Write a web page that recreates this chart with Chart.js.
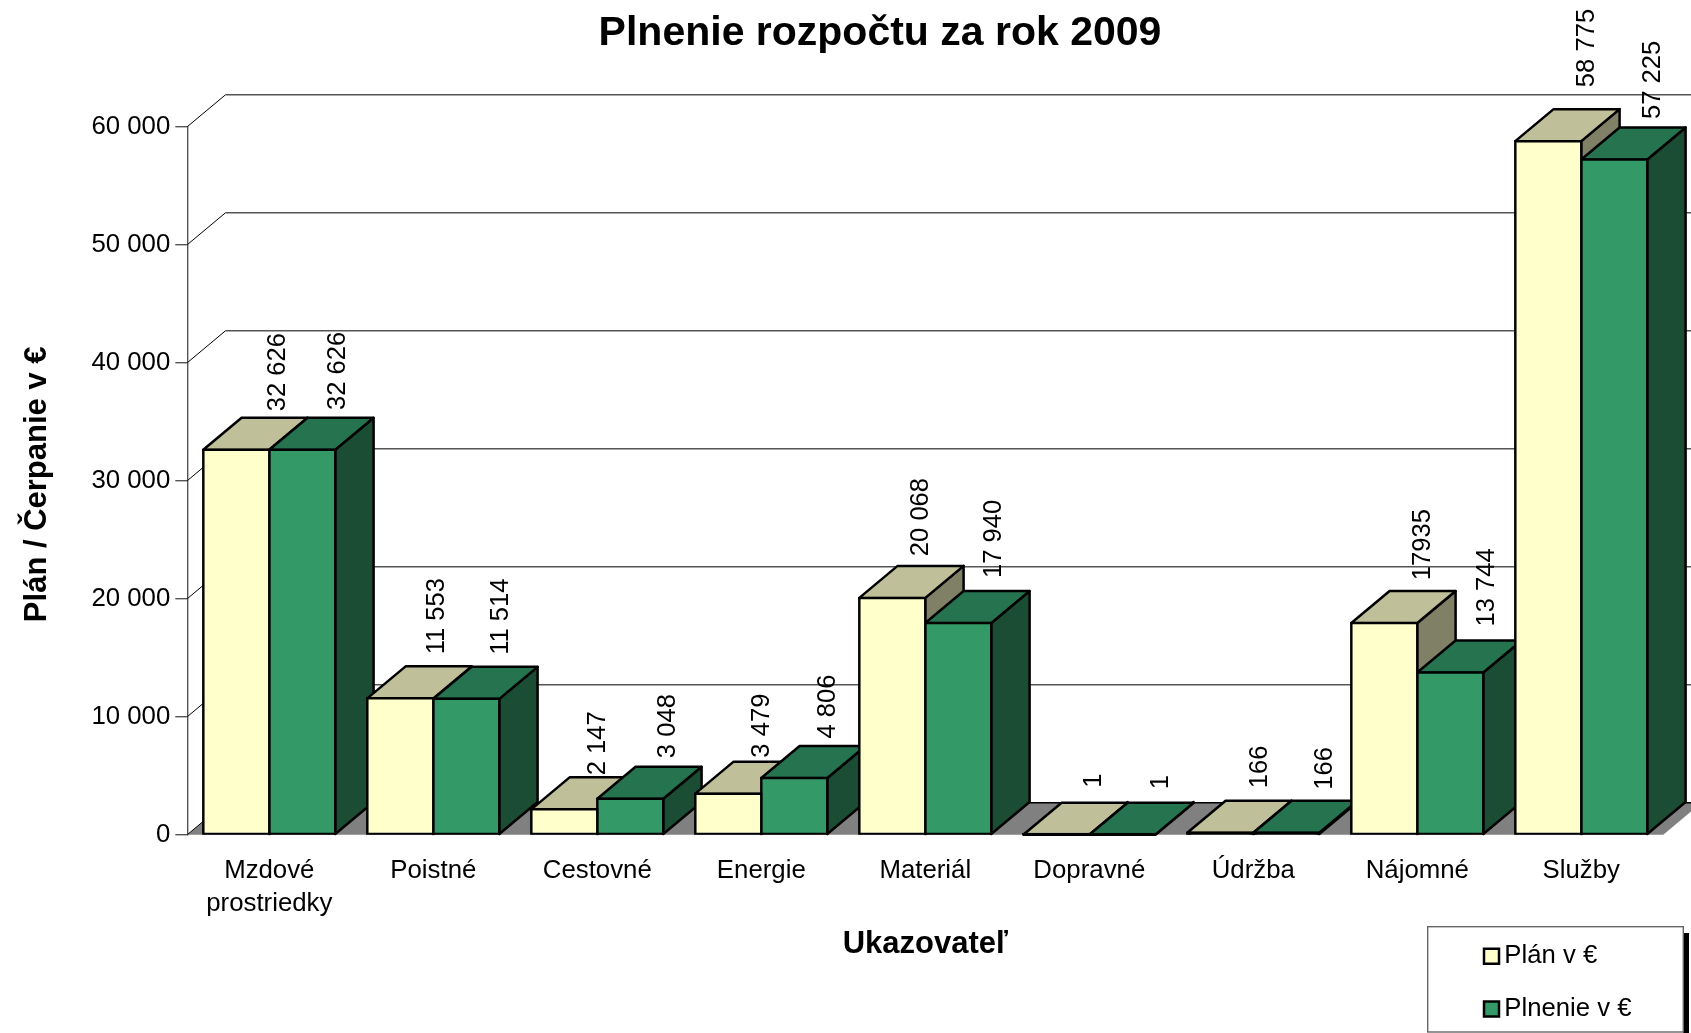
<!DOCTYPE html>
<html><head><meta charset="utf-8">
<style>html,body{margin:0;padding:0;background:#fff}canvas{display:block}</style>
<script src="https://cdn.jsdelivr.net/npm/chart.js@4"></script>
</head><body><canvas id="c" width="1691" height="1033"></canvas>
<script>
const categories = [['Mzdové','prostriedky'],'Poistné','Cestovné','Energie','Materiál','Dopravné','Údržba','Nájomné','Služby'];
const planValues = [32626,11553,2147,3479,20068,1,166,17935,58775];
const plneniValues = [32626,11514,3048,4806,17940,1,166,13744,57225];
const planLabels = ['32 626','11 553','2 147','3 479','20 068','1','166','17935','58 775'];
const plneniLabels = ['32 626','11 514','3 048','4 806','17 940','1','166','13 744','57 225'];
const seriesNames = ['Plán v €','Plnenie v €'];
const tickValues = {min:0,max:60000,step:10000};

const depthX = 38.3, depthY = 32;
// hand placement of the rotated value labels: [x from bar left, gap above bar back edge]
const labelNudgePlan = [[72.7,6.5],[67.3,12],[65,2],[65,4],[59.5,9.7],[69,15],[71,12.6],[70,10.8],[69.7,22]];
const labelNudgePlneni = [[67,7.7],[66,12],[69,8.6],[64.8,7.5],[66.8,13],[70,13.4],[70,11],[67.7,14],[69.7,8.4]];
const faceColors = [{top:'#BFBF99',side:'#808066'},{top:'#267350',side:'#1A4D33'}];
const fmt = v => String(v).replace(/\B(?=(\d{3})+$)/g,' ');

const font = 'Liberation Sans';
const edge = 2.5;
Chart.defaults.font.family = font;
Chart.defaults.color = '#000';

function poly(ctx, pts, fill, stroke, lw){
  ctx.beginPath();
  pts.forEach((p,i)=> i?ctx.lineTo(p[0],p[1]):ctx.moveTo(p[0],p[1]));
  ctx.closePath();
  if(fill){ctx.fillStyle=fill;ctx.fill();}
  if(stroke){ctx.strokeStyle=stroke;ctx.lineWidth=lw;ctx.lineJoin='round';ctx.stroke();}
}

const box3d = {
  id:'box3d',
  beforeDraw(chart){
    const ctx = chart.ctx;
    // legend frame
    ctx.save();
    ctx.fillStyle='#000';
    ctx.fillRect(1683,933,6,100);
    ctx.fillStyle='#fff';
    ctx.strokeStyle='#666';ctx.lineWidth=1.4;
    ctx.fillRect(1427.7,926.7,255.6,105.3);
    ctx.strokeRect(1427.7,926.7,255.6,105.3);
    ctx.restore();
  },
  afterLayout(chart){
    const t = chart.titleBlock;
    t.left = 880-845; t.right = 880+845;
    const l = chart.legend, pad = l.options.labels.padding;
    l.left = 1491.5-pad; l.right = 1690; l.width = l.right-l.left;
    l.top = 943.5-pad; l.bottom = 1200; l.height = l.bottom-l.top;
    // the vertical axis title sits a little below the middle of the axis
    const s = chart.scales.y;
    if(!s._titleShifted){
      const orig = s.drawTitle;
      s.drawTitle = function(){
        const t0=this.top,b0=this.bottom;
        this.top+=3.6;this.bottom+=3.6;
        orig.call(this);
        this.top=t0;this.bottom=b0;
      };
      s._titleShifted = true;
    }
  },
  beforeDatasetsDraw(chart){
    const ctx = chart.ctx, a = chart.chartArea, y = chart.scales.y;
    ctx.save();
    // floor
    const y0 = y.getPixelForValue(0);
    poly(ctx,[[a.left,y0],[a.left+depthX,y0-depthY],[a.right+depthX,y0-depthY],[a.right,y0]],'#808080');
    // back wall lines
    y.ticks.forEach(t=>{
      const py = y.getPixelForValue(t.value);
      ctx.beginPath();ctx.moveTo(a.left,py);ctx.lineTo(a.left+depthX,py-depthY);
      ctx.strokeStyle='#000';ctx.lineWidth=1;ctx.stroke();
      ctx.beginPath();ctx.moveTo(a.left+depthX,py-depthY);ctx.lineTo(a.right+depthX,py-depthY);
      ctx.strokeStyle= t.value===0?'#000':'#555';ctx.lineWidth=t.value===0?1.5:1.4;ctx.stroke();
    });
    // side and top faces, left to right
    const n = chart.data.labels.length;
    for(let i=0;i<n;i++){
      for(let d=0;d<2;d++){
        const el = chart.getDatasetMeta(d).data[i];
        const l = el.x-el.width/2, r = el.x+el.width/2;
        poly(ctx,[[r,el.y],[r+depthX,el.y-depthY],[r+depthX,el.base-depthY],[r,el.base]],faceColors[d].side,'#000',edge);
        poly(ctx,[[l,el.y],[r,el.y],[r+depthX,el.y-depthY],[l+depthX,el.y-depthY]],faceColors[d].top,'#000',edge);
      }
    }
    ctx.restore();
  },
  afterDatasetsDraw(chart){
    const ctx = chart.ctx;
    const sets = [[planLabels,labelNudgePlan],[plneniLabels,labelNudgePlneni]];
    ctx.save();
    ctx.font = '25.6px "'+font+'"';
    ctx.fillStyle='#000';
    ctx.textAlign='left';ctx.textBaseline='middle';
    sets.forEach(([labels,nudge],d)=>{
      labels.forEach((s,i)=>{
        const el = chart.getDatasetMeta(d).data[i];
        const l = el.x-el.width/2;
        ctx.save();
        ctx.translate(l+nudge[i][0]+2, el.y-depthY-nudge[i][1]);
        ctx.rotate(-Math.PI/2);
        ctx.fillText(s,0,0);
        ctx.restore();
      });
    });
    ctx.restore();
  }
};

// bars only a pixel or two tall show as a solid black edge
const frontFill = color => c => (c.raw !== undefined && c.raw < 500) ? '#000' : color;
const barStyle = {borderColor:'#000',borderWidth:edge,borderSkipped:false,inflateAmount:edge/2};
new Chart(document.getElementById('c'),{
  type:'bar',
  data:{labels:categories,datasets:[
    {label:seriesNames[0],data:planValues,backgroundColor:frontFill('#FFFFCC'),...barStyle},
    {label:seriesNames[1],data:plneniValues,backgroundColor:frontFill('#339966'),...barStyle}
  ]},
  plugins:[box3d],
  options:{
    responsive:false,animation:false,
    categoryPercentage:132/164,barPercentage:1,
    layout:{padding:{left:0,right:27.7,top:0,bottom:0}},
    plugins:{
      tooltip:{enabled:false},
      title:{display:true,text:'Plnenie rozpočtu za rok 2009',color:'#000',
        font:{size:41,weight:'bold',family:font,lineHeight:1.2},
        padding:{top:8.6,bottom:68.9}},
      legend:{display:true,position:'chartArea',align:'start',
        labels:{font:{size:25.7,family:font},color:'#000',usePointStyle:true,pointStyle:'rect',boxWidth:0.01,boxHeight:15,padding:27}}
    },
    scales:{
      x:{
        afterFit(s){s.height=1033-834.7;},
        grid:{display:false},border:{display:false},
        ticks:{autoSkip:false,maxRotation:0,minRotation:0,padding:12,font:{size:25.8,family:font,lineHeight:1.28},color:'#000'},
        title:{display:true,text:'Ukazovateľ',color:'#000',font:{size:31,weight:'bold',family:font,lineHeight:1.2},padding:{top:0,bottom:70.2}}
      },
      y:{
        afterFit(s){s.width=187.3;},
        min:tickValues.min,max:tickValues.max,
        grid:{drawOnChartArea:false,drawTicks:true,tickLength:12,color:'#555',lineWidth:1.4},
        border:{display:true,color:'#555',width:1.4},
        ticks:{stepSize:tickValues.step,padding:5,font:{size:25.8,family:font},color:'#000',callback:v=>fmt(v)},
        title:{display:true,text:'Plán / Čerpanie v €',color:'#000',font:{size:31,weight:'bold',family:font,lineHeight:1.2},padding:{top:18.4,bottom:0}}
      }
    }
  }
});
</script></body></html>
